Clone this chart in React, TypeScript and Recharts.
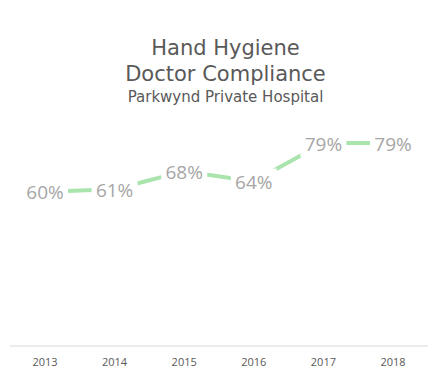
import React from 'react';
import { LineChart, Line, XAxis, YAxis, LabelList } from 'recharts';

const years = ['2013', '2014', '2015', '2016', '2017', '2018'];
const compliance = [0.60, 0.61, 0.68, 0.64, 0.79, 0.79];
const labels = ['60%', '61%', '68%', '64%', '79%', '79%'];

const data = years.map((y, i) => ({ year: y, value: compliance[i], label: labels[i] }));

const renderLabel = (props: any) => {
  const { x, y, value } = props;
  return (
    <g>
      <rect x={x - 23} y={y - 13} width={46} height={27} fill="#ffffff" />
      <text x={x} y={y + 1} dy="0.35em" textAnchor="middle" fill="#A6A6A6"
        style={{ fontFamily: '"Open Sans", sans-serif', fontSize: 19 }}>
        {value}
      </text>
    </g>
  );
};

export default function App() {
  return (
    <div style={{ position: 'absolute', left: 0, top: 0, width: 445, height: 378, background: '#fff' }}>
      <div style={{ position: 'absolute', left: 3, top: 35, width: 445, textAlign: 'center', color: '#595959', fontFamily: 'DejaVu Sans, sans-serif', fontSize: 21, lineHeight: '26px' }}>
        <div>Hand Hygiene</div>
        <div>Doctor Compliance</div>
        <div style={{ fontSize: 15, lineHeight: '20px' }}>Parkwynd Private Hospital</div>
      </div>
      <LineChart width={445} height={378} data={data} margin={{ top: 89, right: 17, left: 10, bottom: 2 }}>
        <XAxis dataKey="year" axisLine={{ stroke: '#D9D9D9' }} tickLine={false} height={30} tickMargin={6}
          padding={{ left: 35, right: 35 }}
          tick={{ fill: '#595959', fontSize: 11, fontFamily: '"Open Sans", sans-serif' }} />
        <YAxis hide domain={[0, 1]} />
        <Line dataKey="value" stroke="#A8E4AC" strokeWidth={4} dot={false} isAnimationActive={false}>
          <LabelList dataKey="label" content={renderLabel} />
        </Line>
      </LineChart>
    </div>
  );
}
